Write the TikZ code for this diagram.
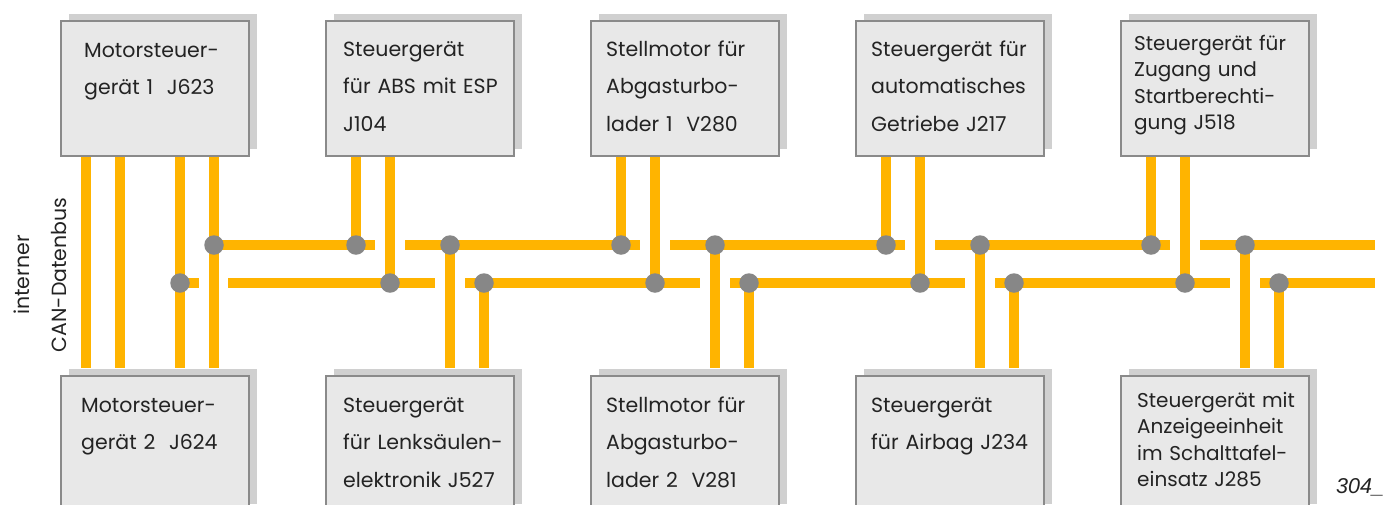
\documentclass[tikz,border=0pt]{standalone}
\usepackage{fontspec}
\setmainfont{Poppins}
\newfontfamily\bildfont{Liberation Sans}
\usepackage{tikz}
\usetikzlibrary{calc,positioning,shadows}

\definecolor{busgelb}{RGB}{255,180,0}
\definecolor{boxgrau}{RGB}{232,232,232}
\definecolor{rahmengrau}{RGB}{138,138,138}
\definecolor{schattengrau}{RGB}{208,208,208}
\definecolor{punktgrau}{RGB}{135,135,135}
\definecolor{textgrau}{RGB}{35,35,35}

\pgfdeclarelayer{background}
\pgfsetlayers{background,main}

\begin{document}
\begin{tikzpicture}[x=1pt, y=-1pt, node distance=75pt]
  \tikzstyle{steuergeraet} = [rectangle, draw=rahmengrau, line width=2pt, fill=boxgrau,
      minimum width=188pt, minimum height=135pt, inner sep=0pt,
      drop shadow={shadow xshift=8pt, shadow yshift=7pt, fill=schattengrau, opacity=1}]
  \tikzstyle{beschriftung} = [anchor=base west, text width=180pt, align=left, inner sep=0pt,
      text=textgrau, font=\fontsize{20.5}{37.5}\selectfont]
  \tikzstyle{eng} = [font=\fontsize{20}{26.5}\selectfont]
  \tikzstyle{leitung} = [draw=busgelb, line width=10pt]
  \tikzstyle{knoten} = [circle, fill=punktgrau, minimum size=19.5pt, inner sep=0pt]

  \useasboundingbox (0,0) rectangle (1385,504);

  % obere Reihe
  \node[steuergeraet] (mot1) at (155,88.5) {};
  \node[steuergeraet, right=of mot1] (abs) {};
  \node[steuergeraet, right=of abs] (turbo1) {};
  \node[steuergeraet, right=of turbo1] (getr) {};
  \node[steuergeraet, right=of getr] (zugang) {};
  % untere Reihe
  \node[steuergeraet, below=218pt of mot1] (mot2) {};
  \node[steuergeraet, right=of mot2] (lenk) {};
  \node[steuergeraet, right=of lenk] (turbo2) {};
  \node[steuergeraet, right=of turbo2] (airbag) {};
  \node[steuergeraet, right=of airbag] (kombi) {};

  % Beschriftungen
  \node[beschriftung] (mot1text) at ($(mot1.north west)+(24,37)$) {Motorsteuer-\\gerät 1~~J623};
  \node[beschriftung] (abstext) at ($(abs.north west)+(18,36)$) {Steuergerät\\für ABS mit ESP\\J104};
  \node[beschriftung] (turbo1text) at ($(turbo1.north west)+(16,36)$) {Stellmotor für\\Abgasturbo-\\lader 1~~V280};
  \node[beschriftung] (getrtext) at ($(getr.north west)+(16,36)$) {Steuergerät für\\automatisches\\Getriebe J217};
  \node[beschriftung, eng] (zugangtext) at ($(zugang.north west)+(14,30)$) {Steuergerät für\\Zugang und\\Startberechti-\\gung J518};
  \node[beschriftung] (mot2text) at ($(mot2.north west)+(21,37)$) {Motorsteuer-\\gerät 2~~J624};
  \node[beschriftung] (lenktext) at ($(lenk.north west)+(18,37)$) {Steuergerät\\für Lenksäulen-\\elektronik J527};
  \node[beschriftung] (turbo2text) at ($(turbo2.north west)+(16,37)$) {Stellmotor für\\Abgasturbo-\\lader 2~~V281};
  \node[beschriftung] (airbagtext) at ($(airbag.north west)+(16,37)$) {Steuergerät\\für Airbag J234};
  \node[beschriftung, eng] (kombitext) at ($(kombi.north west)+(17,32)$) {Steuergerät mit\\Anzeigeeinheit\\im Schalttafel-\\einsatz J285};

  \node[rotate=90, align=center, inner sep=0pt, text=textgrau,
      font=\fontsize{20.5}{37}\selectfont] (canbus) at (40,275) {interner\\CAN-Datenbus};
  \node[anchor=base west, inner sep=0pt, text=textgrau,
      font=\fontsize{21.5}{24}\bildfont\itshape] (bildnr) at (1336,493) {304\_};

  % Knotenpunkte
  \node[knoten] (ob0) at (214,245) {};
  \node[knoten] (un0) at (180,283) {};
  \foreach \x [count=\k] in {325,590,855,1120} {
    \node[knoten] (oba\k) at (\x+31,245) {};
    \node[knoten] (obb\k) at (\x+125,245) {};
    \node[knoten] (una\k) at (\x+65,283) {};
    \node[knoten] (unb\k) at (\x+159,283) {};
    \coordinate (olinks\k) at (\x+50,245);
    \coordinate (orechts\k) at (\x+80,245);
    \coordinate (ulinks\k) at (\x+110,283);
    \coordinate (urechts\k) at (\x+140,283);
  }
  \coordinate (ulinks0) at (199,283);
  \coordinate (urechts0) at (228,283);
  \coordinate (oende) at (1375,245);
  \coordinate (uende) at (1375,283);

  \begin{pgfonlayer}{background}
    \coordinate (obenmot2) at ([yshift=7pt]mot2.north);
    \path[leitung] ([xshift=-69.5pt]mot1.south) -- ([xshift=-69.5pt]obenmot2);
    \path[leitung] ([xshift=-35.5pt]mot1.south) -- ([xshift=-35.5pt]obenmot2);
    \path[leitung] (mot1.south -| un0) -- (obenmot2 -| un0);
    \path[leitung] (mot1.south -| ob0) -- (obenmot2 -| ob0);
    \foreach \oben/\unten [count=\k] in {abs/lenk, turbo1/turbo2, getr/airbag, zugang/kombi} {
      \coordinate (oben\unten) at ([yshift=7pt]\unten.north);
      \path[leitung] (\oben.south -| oba\k) -- (oba\k.center);
      \path[leitung] (\oben.south -| una\k) -- (una\k.center);
      \path[leitung] (obb\k.center) -- (oben\unten -| obb\k);
      \path[leitung] (unb\k.center) -- (oben\unten -| unb\k);
    }
    % Busleitungen
    \path[leitung] (ob0.center) -- (olinks1) (orechts1) -- (olinks2) (orechts2) -- (olinks3)
      (orechts3) -- (olinks4) (orechts4) -- (oende);
    \path[leitung] (un0.center) -- (ulinks0) (urechts0) -- (ulinks1) (urechts1) -- (ulinks2)
      (urechts2) -- (ulinks3) (urechts3) -- (ulinks4) (urechts4) -- (uende);
  \end{pgfonlayer}
\end{tikzpicture}
\end{document}
